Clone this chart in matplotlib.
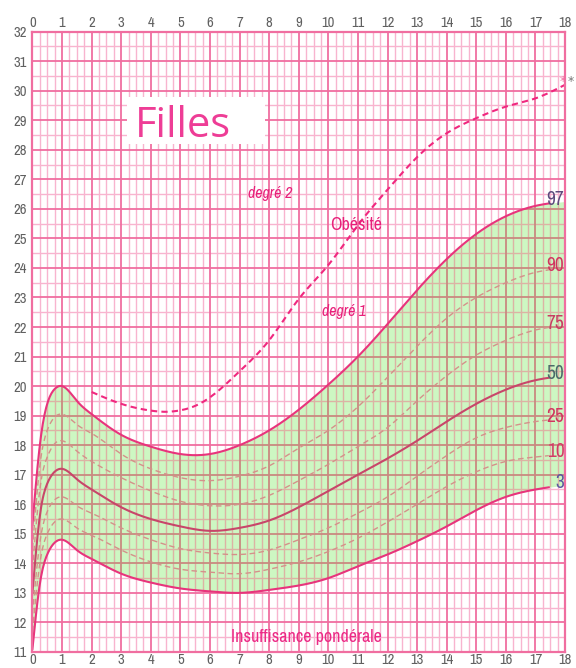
import numpy as np
import matplotlib
matplotlib.use("Agg")
import matplotlib.pyplot as plt
from matplotlib import font_manager
from matplotlib.font_manager import FontProperties
from matplotlib.collections import LineCollection

# ages (years) and BMI percentiles
ages = [0, 0.25, 0.5, 0.75, 1, 1.5, 2, 3, 4, 5, 6, 7, 8, 9, 10, 11, 12, 13, 14, 15, 16, 17, 18]
p97 = [15.3, 18.0, 19.4, 19.9, 20.0, 19.5, 19.05, 18.35, 17.95, 17.7, 17.7, 18.0, 18.5, 19.2, 20.05,
       21.0, 22.1, 23.25, 24.3, 25.15, 25.75, 26.1, 26.25]
p90 = [14.5, 17.3, 18.5, 18.95, 19.05, 18.7, 18.4, 17.7, 17.2, 16.9, 16.8, 16.95, 17.3, 17.9, 18.5,
       19.3, 20.3, 21.35, 22.3, 23.0, 23.5, 23.85, 24.0]
p75 = [13.8, 16.5, 17.6, 18.05, 18.15, 17.8, 17.45, 16.9, 16.45, 16.1, 15.95, 16.0, 16.3, 16.8, 17.35,
       17.95, 18.6, 19.5, 20.35, 21.05, 21.55, 21.9, 22.05]
p50 = [13.0, 15.6, 16.7, 17.1, 17.2, 16.85, 16.5, 15.9, 15.5, 15.25, 15.1, 15.2, 15.45, 15.9, 16.45,
       17.0, 17.55, 18.15, 18.8, 19.4, 19.88, 20.2, 20.35]
p25 = [12.3, 14.7, 15.75, 16.15, 16.25, 15.95, 15.7, 15.2, 14.8, 14.5, 14.35, 14.3, 14.45, 14.8, 15.2,
       15.7, 16.25, 16.95, 17.65, 18.25, 18.6, 18.8, 18.9]
p10 = [11.7, 14.0, 15.0, 15.4, 15.5, 15.2, 14.95, 14.45, 14.05, 13.8, 13.7, 13.65, 13.8, 14.05, 14.4,
       14.85, 15.4, 16.0, 16.6, 17.1, 17.45, 17.6, 17.7]
p3 = [11.1, 13.3, 14.3, 14.7, 14.8, 14.45, 14.15, 13.65, 13.35, 13.15, 13.05, 13.0, 13.1, 13.25, 13.5,
      13.9, 14.3, 14.75, 15.25, 15.8, 16.25, 16.5, 16.65]

# obesity degree 2 threshold (dashed pink)
deg2_ages = [2, 3, 4, 4.5, 5, 5.5, 6, 7, 8, 9, 10, 11, 12, 13, 14, 15, 16, 17, 18]
deg2_bmi = [19.8, 19.4, 19.17, 19.13, 19.18, 19.33, 19.62, 20.5, 21.55, 22.95, 24.1, 25.45, 26.65,
            27.75, 28.56, 29.07, 29.46, 29.74, 30.2]

pct_names = ["97", "90", "75", "50", "25", "10", "3"]
x_ticks = list(range(0, 19))
y_ticks = list(range(11, 33))

PINK = "#f06ea0"
PINK_LIGHT = "#f8b4cf"
GREEN = "#cdf7c2"

SKIP = ("Bold", "Black", "Light", "Thin", "Medium", "Semi", "Extra", "Heavy")


def narrow_font(italic=False):
    # look for an installed narrow sans face, Liberation Sans Narrow first
    found = []
    for f in font_manager.fontManager.ttflist:
        base = f.fname.split("/")[-1]
        if "Narrow" not in f.name and "Narrow" not in base:
            continue
        if any(s in base for s in SKIP):
            continue
        is_it = ("Italic" in base) or ("Oblique" in base) or f.style != "normal"
        if is_it != italic:
            continue
        found.append(f.fname)
    if found:
        return FontProperties(fname=sorted(found)[0]), True
    return FontProperties(family="Liberation Sans", style="italic" if italic else "normal"), False


NARROW, HAS_NARROW = narrow_font()
NARROW_I, HAS_NARROW_I = narrow_font(italic=True)
SHRINK = 1.0 if HAS_NARROW else 0.84
SHRINK_I = 1.0 if HAS_NARROW_I else 0.84


def spline(x, y, xs):
    # natural cubic spline, only used to draw smooth curves through the read points
    x = np.asarray(x, float)
    y = np.asarray(y, float)
    n = len(x)
    h = np.diff(x)
    A = np.zeros((n, n))
    r = np.zeros(n)
    A[0, 0] = A[-1, -1] = 1
    for i in range(1, n - 1):
        A[i, i - 1] = h[i - 1]
        A[i, i] = 2 * (h[i - 1] + h[i])
        A[i, i + 1] = h[i]
        r[i] = 6 * ((y[i + 1] - y[i]) / h[i] - (y[i] - y[i - 1]) / h[i - 1])
    M = np.linalg.solve(A, r)
    k = np.clip(np.searchsorted(x, xs) - 1, 0, n - 2)
    t0 = xs - x[k]
    t1 = x[k + 1] - xs
    hk = h[k]
    return (M[k] * t1 ** 3 + M[k + 1] * t0 ** 3) / (6 * hk) + \
        (y[k] / hk - M[k] * hk / 6) * t1 + (y[k + 1] / hk - M[k + 1] * hk / 6) * t0


def fp(base, size):
    p = base.copy()
    p.set_size(size)
    return p


fig = plt.figure(figsize=(5.76, 6.68), dpi=100)
ax = fig.add_axes([0.0563, 0.024, 0.9247, 0.9287])
ax.set_xlim(0, 18)
ax.set_ylim(11, 32)

minor_segs = [[(a, 11), (a, 32)] for a in np.arange(0, 18.01, 0.25) if abs(a - round(a)) > 1e-6]
minor_segs += [[(0, b + 0.5), (18, b + 0.5)] for b in y_ticks[:-1]]
major_segs = [[(a, 11), (a, 32)] for a in x_ticks] + [[(0, b), (18, b)] for b in y_ticks]
ax.add_collection(LineCollection(minor_segs, colors=PINK_LIGHT, linewidths=1.0, zorder=1))
ax.add_collection(LineCollection(major_segs, colors=PINK, linewidths=1.3, zorder=1))

xs = np.linspace(0, 18, 700)
band = ax.fill_between(xs, spline(ages, p3, xs), spline(ages, p97, xs), color=GREEN, lw=0, zorder=2)

# grid seen through the green band turns brownish
clip = band.get_paths()[0]
g1 = LineCollection(minor_segs, colors="#dcb3a4", linewidths=1.0, zorder=3)
g2 = LineCollection(major_segs, colors="#c98a80", linewidths=1.3, zorder=3)
for g in (g1, g2):
    ax.add_collection(g)
    g.set_clip_path(clip, ax.transData)

# percentile curves, stopping short of the labels
xl = np.linspace(0, 17.45, 600)
series = [p97, p90, p75, p50, p25, p10, p3]
dash = dict(color="#d4918a", lw=1.0, ls=(0, (4, 2.5)))
styles = {
    "97": dict(color="#e8347c", lw=1.5, ls="-"),
    "90": dash, "75": dash,
    "50": dict(color="#c8466a", lw=1.5, ls="-"),
    "25": dash, "10": dash,
    "3": dict(color="#e8347c", lw=1.5, ls="-"),
}
label_colors = {"97": "#5d4a7c", "90": "#d2345f", "75": "#c83c62", "50": "#4c6a6a",
                "25": "#d2345f", "10": "#d23c66", "3": "#5a5aa0"}
for name, vals in zip(pct_names, series):
    ax.plot(xl, spline(ages, vals, xl), zorder=4, **styles[name])
    ax.text(17.98, vals[-1] + 0.08, name, ha="right", va="center",
            fontproperties=fp(NARROW, 14 * SHRINK), color=label_colors[name], zorder=6)

xd = np.linspace(deg2_ages[0], deg2_ages[-1], 400)
ax.plot(xd, spline(deg2_ages, deg2_bmi, xd), color="#f0287f", lw=1.5,
        ls=(0, (3, 2)), zorder=4)
ax.text(17.93, deg2_bmi[-1] + 0.12, "*", color="#f06ea0", fontsize=9, ha="center",
        va="center", zorder=6)
ax.text(18.2, deg2_bmi[-1] + 0.12, "*", color="#777777", fontsize=9, ha="center",
        va="center", zorder=6, clip_on=False)

# title box
ax.add_patch(plt.Rectangle((3.19, 28.2), 4.67, 1.6, facecolor="white", edgecolor="none", zorder=5))
ax.text(3.45, 28.42, "Filles", fontsize=30, family=["Open Sans", "Lato", "DejaVu Sans"],
        color="#ee3d96", ha="left", va="baseline", zorder=6)

ax.text(8.03, 26.53, "degré 2", fontproperties=fp(NARROW_I, 11.5 * SHRINK_I),
        color="#e8207a", ha="center", va="center", zorder=6)
ax.text(10.95, 25.45, "Obésité", fontproperties=fp(NARROW, 13 * SHRINK), color="#e8207a",
        ha="center", va="center", zorder=6)
ax.text(10.54, 22.51, "degré 1", fontproperties=fp(NARROW_I, 11.5 * SHRINK_I),
        color="#e8207a", ha="center", va="center", zorder=6)
ax.text(9.25, 11.5, "Insuffisance pondérale", fontproperties=fp(NARROW, 13 * SHRINK),
        color="#ec2a86", ha="center", va="center", zorder=6)

ax.set_xticks(x_ticks)
ax.set_yticks(y_ticks)
ax.tick_params(axis="both", length=0, labelcolor="#606060")
ax.tick_params(axis="x", top=True, labeltop=True, pad=3)
ax.tick_params(axis="x", bottom=True, pad=1)
ax.tick_params(axis="y", pad=4)
for lab in ax.get_xticklabels() + ax.get_yticklabels():
    lab.set_fontproperties(fp(NARROW, 10.5 if HAS_NARROW else 8.5))
ax.grid(False)
for sp in ax.spines.values():
    sp.set_color(PINK)
    sp.set_linewidth(1.6)
    sp.set_zorder(7)

fig.savefig("out.png", dpi=100, facecolor="white")
